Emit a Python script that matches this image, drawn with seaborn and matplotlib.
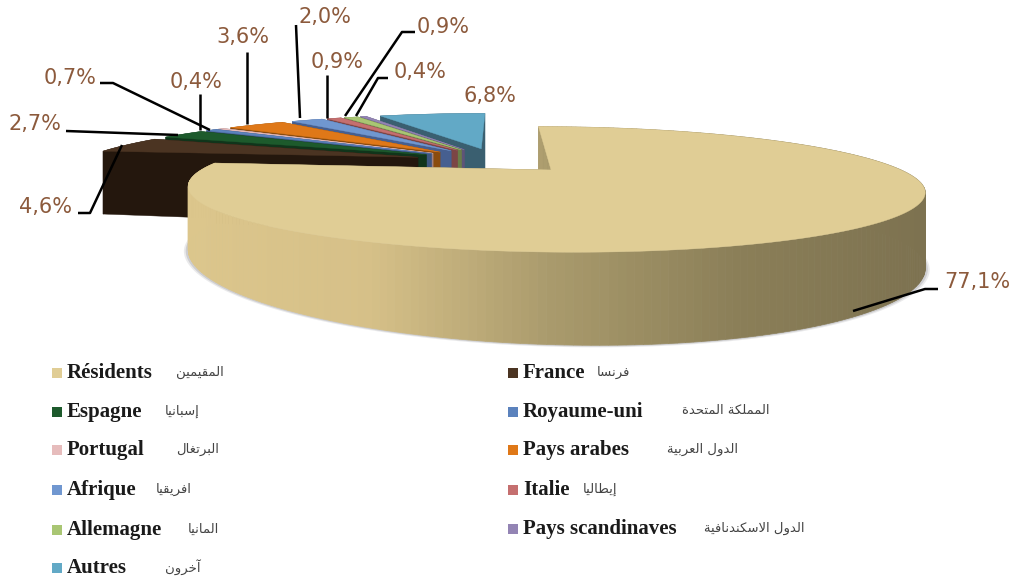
import numpy as np
import matplotlib
matplotlib.use("Agg")
import matplotlib.pyplot as plt
import seaborn as sns

# valeurs
categories = ["Résidents", "France", "Espagne", "Royaume-uni", "Portugal", "Pays arabes",
              "Afrique", "Italie", "Allemagne", "Pays scandinaves", "Autres"]
categories_ar = ["المقيمين", "فرنسا", "إسبانيا", "المملكة المتحدة", "البرتغال", "الدول العربية",
                 "افريقيا", "إيطاليا", "المانيا", "الدول الاسكندنافية", "آخرون"]
values = [77.1, 4.6, 2.7, 0.7, 0.4, 3.6, 2.0, 0.9, 0.9, 0.4, 6.8]
value_labels = ["77,1%", "4,6%", "2,7%", "0,7%", "0,4%", "3,6%", "2,0%", "0,9%", "0,9%", "0,4%", "6,8%"]
top_colors = ["#e0cd95", "#4b3422", "#1d5a2c", "#5b82bd", "#e6bcbc", "#df7818",
              "#7097d0", "#c56f6f", "#a9c673", "#9384b4", "#62a9c6"]
side_colors = ["#8b7f58", "#24170d", "#10351b", "#3d5680", "#a08080", "#8a4c0e",
               "#465f90", "#7c4545", "#6a7d48", "#5e5478", "#3a5f70"]
wall_stops = ["#dcc68c", "#d6c088", "#a99a6c", "#8b7f58", "#7d7250"]
explode = [0.225, 0.25, 0.25, 0.25, 0.25, 0.25, 0.25, 0.25, 0.25, 0.25, 0.25]
radii = [0.98, 1, 1, 1, 1, 1, 1, 1, 1, 1, 1]
depths = [1, 1.08, 1.08, 1.08, 1.08, 1.08, 1.08, 1.08, 1.08, 1.08, 1.08]

# texte des étiquettes et traits de rappel (en pixels de l'image)
label_pos = [(977, 282), (45, 207), (35, 124), (70, 78), (196, 82), (243, 37),
             (325, 17), (337, 62), (443, 27), (420, 72), (490, 96)]
leaders = [[(938, 289), (925, 289), (853, 311)],
           [(78, 213), (90, 213), (122, 145)],
           [(66, 131), (178, 135)],
           [(100, 83), (113, 83), (210, 130)],
           [(200, 94), (200, 130)],
           [(247, 52), (247, 124)],
           [(296, 25), (300, 118)],
           [(327, 75), (327, 118)],
           [(415, 32), (402, 32), (345, 116)],
           [(388, 78), (378, 78), (356, 116)],
           []]

# position de la légende
legend_x = {0: (52, 67), 1: (508, 523)}
legend_rows = [373, 373, 412, 412, 450, 450, 490, 490, 530, 529, 568]
ar_right = [224, 630, 199, 769, 219, 738, 192, 617, 219, 805, 200]

CX, CY, RX, RY, P, H = 498, 160.7, 339, 52.2, 0.30, 64.6


def project(u, v, z=0.0):
    u, v = np.asarray(u, float), np.asarray(v, float)
    w = 1 + P * v
    x = CX + RX * u / w
    h = H * (1 + 0.08 * u) * (1 + 0.319 * np.minimum(v, 0) ** 2)
    y = CY - RY * v / w + z * h
    return x, y


def draw_wedge(ax, a0, a1, off, r, depth, top, side, zo, wall_cmap=None):
    # a0 > a1 : sens horaire, angles en degres
    mid = np.radians((a0 + a1) / 2)
    u0, v0 = off * np.cos(mid), off * np.sin(mid)
    ang = np.radians(np.linspace(a0, a1, max(int(abs(a0 - a1)), 6) + 1))
    us, vs = u0 + r * np.cos(ang), v0 + r * np.sin(ang)

    # faces radiales
    for ue, ve in [(us[0], vs[0]), (us[-1], vs[-1])]:
        xa, ya = project([u0, ue, ue, u0], [v0, ve, ve, v0], np.array([0, 0, depth, depth]))
        ax.fill(xa, ya, color=side, lw=0.3, zorder=zo)

    xt, yt = project(us, vs)
    xb, yb = project(us, vs, depth)

    # paroi exterieure, et ombre douce pour la grande part
    if wall_cmap is None:
        ax.fill(np.r_[xt, xb[::-1]], np.r_[yt, yb[::-1]], color=side, lw=0.3, zorder=zo + 0.1)
    else:
        xc, yc = project(u0, v0)
        for grow, alpha in [(1.012, 0.18), (1.007, 0.3)]:
            ax.fill(xc + (xb - xc) * grow, yc + (yb - yc) * grow, color="#8f8f95", alpha=alpha,
                    lw=0, zorder=zo - 0.5)
        for k in range(len(xt) - 1):
            c = wall_cmap((xt[k] - 190) / (924 - 190))
            ax.fill([xt[k], xt[k + 1], xb[k + 1], xb[k]], [yt[k], yt[k + 1], yb[k + 1], yb[k]],
                    color=c, lw=0.5, zorder=zo + 0.1)

    # dessus
    x0, y0 = project(u0, v0)
    ax.fill(np.r_[x0, xt], np.r_[y0, yt], color=top, lw=0.3, zorder=zo + 0.2)


# mise en forme de l'arabe (matplotlib ne fait pas le shaping)
FORMS = {
    "ا": "ﺍﺎ", "أ": "ﺃﺄ", "إ": "ﺇﺈ", "آ": "ﺁﺂ", "د": "ﺩﺪ", "ذ": "ﺫﺬ", "ر": "ﺭﺮ", "ز": "ﺯﺰ",
    "و": "ﻭﻮ", "ة": "ﺓﺔ",
    "ب": "ﺏﺐﺑﺒ", "ت": "ﺕﺖﺗﺘ", "ح": "ﺡﺢﺣﺤ", "خ": "ﺥﺦﺧﺨ", "س": "ﺱﺲﺳﺴ", "ط": "ﻁﻂﻃﻄ",
    "ع": "ﻉﻊﻋﻌ", "غ": "ﻍﻎﻏﻐ", "ف": "ﻑﻒﻓﻔ", "ق": "ﻕﻖﻗﻘ", "ك": "ﻙﻚﻛﻜ", "ل": "ﻝﻞﻟﻠ",
    "م": "ﻡﻢﻣﻤ", "ن": "ﻥﻦﻧﻨ", "ي": "ﻱﻲﻳﻴ",
}


def shape_ar(text):
    out = []
    i = 0
    prev_joins = False
    while i < len(text):
        c = text[i]
        if c not in FORMS:
            out.append(c)
            prev_joins = False
            i += 1
            continue
        if c == "ل" and i + 1 < len(text) and text[i + 1] == "ا":
            out.append("ﻼ" if prev_joins else "ﻻ")
            prev_joins = False
            i += 2
            continue
        f = FORMS[c]
        next_ok = i + 1 < len(text) and text[i + 1] in FORMS
        if len(f) == 2:
            out.append(f[1] if prev_joins else f[0])
            prev_joins = False
        else:
            if prev_joins and next_ok:
                out.append(f[3])
            elif prev_joins:
                out.append(f[1])
            elif next_ok:
                out.append(f[2])
            else:
                out.append(f[0])
            prev_joins = next_ok
        i += 1
    return "".join(out[::-1])


sns.set_theme(style="white")
fig = plt.figure(figsize=(10.14, 5.82), dpi=100, facecolor="white")
ax = fig.add_axes([0, 0, 1, 1])
ax.set_xlim(0, 1014)
ax.set_ylim(582, 0)
ax.axis("off")

palette = sns.color_palette(top_colors)
sides = sns.color_palette(side_colors)
wall_cmap = sns.blend_palette(wall_stops, as_cmap=True)

# angles : depart a 90 degres, sens horaire
total = sum(values)
edges = 90 - np.r_[0, np.cumsum(values)] / total * 360

# du fond vers l'avant, la grande part en dernier
for i in list(range(len(values) - 1, 0, -1)) + [0]:
    zo = 2 + (len(values) - i if i else 30)
    draw_wedge(ax, edges[i], edges[i + 1], explode[i], radii[i], depths[i], palette[i], sides[i], zo,
               wall_cmap if i == 0 else None)

for line in leaders:
    if line:
        ax.plot(*zip(*line), color="black", lw=1.8, zorder=50, solid_capstyle="butt")

for txt, (x, y) in zip(value_labels, label_pos):
    ax.text(x, y, txt, color="#8c5a3c", fontsize=15, ha="center", va="center",
            family="DejaVu Sans", zorder=60)

for i, name in enumerate(categories):
    sx, tx = legend_x[i % 2]
    y = legend_rows[i]
    ax.scatter([sx + 5], [y], marker="s", s=48, color=palette[i], linewidths=0, zorder=60)
    ax.text(tx, y, name, family="Liberation Serif", fontweight="bold", fontsize=15,
            color="#1a1a1a", ha="left", va="center")
    ax.text(ar_right[i], y - 1, shape_ar(categories_ar[i]), family="DejaVu Sans", fontsize=9.5,
            color="#444444", ha="right", va="center")

fig.savefig("out.png", dpi=100)
